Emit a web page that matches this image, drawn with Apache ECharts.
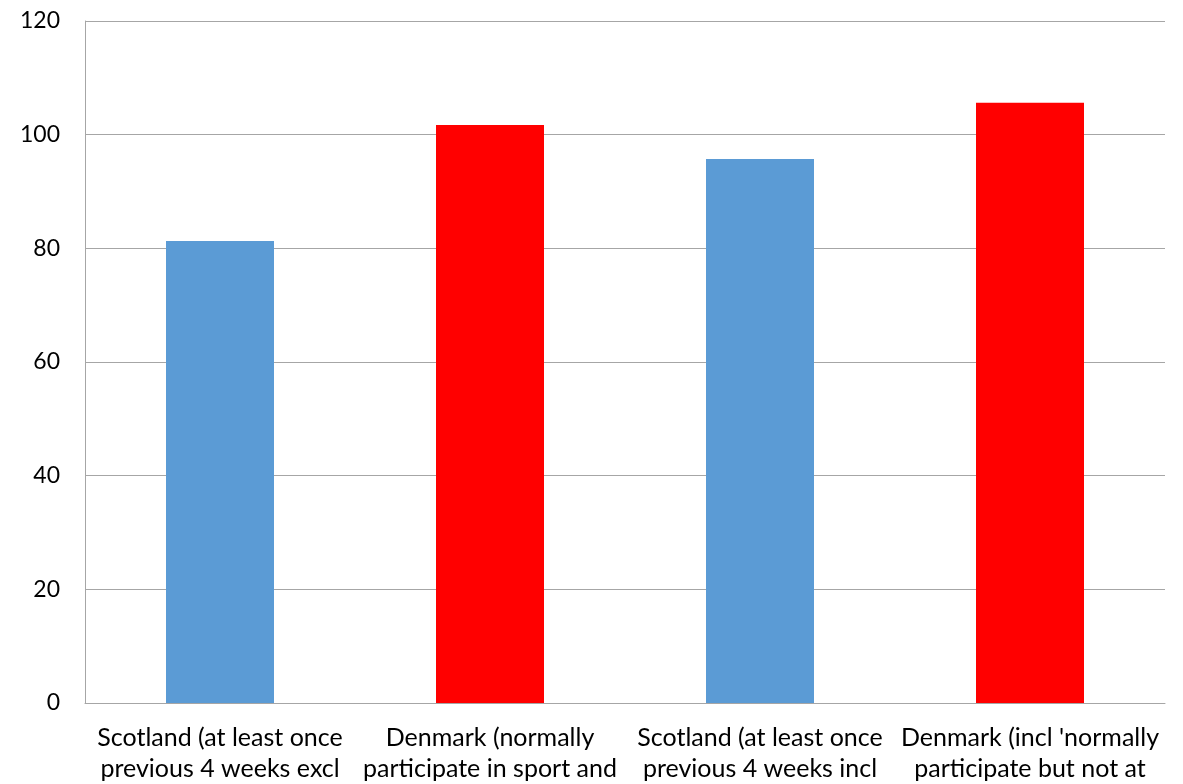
<!DOCTYPE html>
<html>
<head>
<meta charset="utf-8">
<script src="https://cdn.jsdelivr.net/npm/echarts@6/dist/echarts.min.js"></script>
<style>
  html, body { margin: 0; padding: 0; background: #ffffff; }
  #chart { width: 1183px; height: 784px; }
</style>
</head>
<body>
<div id="chart"></div>
<script>
// Participation measures, Scotland vs Denmark
const categories = [
  "Scotland (at least once\nprevious 4 weeks excl\nwalking)",
  "Denmark (normally\nparticipate in sport and\nexercise)",
  "Scotland (at least once\nprevious 4 weeks incl\nwalking)",
  "Denmark (incl 'normally\nparticipate but not at\npresent')"
];
const values = [81.3, 101.7, 95.7, 105.6];
const barColors = ["#5b9bd5", "#ff0000", "#5b9bd5", "#ff0000"];
const yTicks = { min: 0, max: 120, interval: 20 };

const chart = echarts.init(document.getElementById("chart"), null, { renderer: "canvas" });
const font = "Lato, 'Open Sans', sans-serif";

chart.setOption({
  animation: false,
  backgroundColor: "#ffffff",
  grid: { left: 85, right: 18, top: 21, bottom: 81, containLabel: false, outerBoundsMode: "none" },
  xAxis: {
    type: "category",
    data: categories,
    axisLine: { show: true, lineStyle: { color: "#a6a6a6", width: 1 } },
    axisTick: { show: false },
    axisLabel: {
      interval: 0,
      color: "#000000",
      fontFamily: font,
      fontSize: 25,
      lineHeight: 31,
      margin: 19
    }
  },
  yAxis: {
    type: "value",
    min: yTicks.min,
    max: yTicks.max,
    interval: yTicks.interval,
    axisLine: { show: true, lineStyle: { color: "#a6a6a6", width: 1 } },
    axisTick: { show: false },
    splitLine: { show: true, lineStyle: { color: "#a6a6a6", width: 1 } },
    axisLabel: {
      color: "#000000",
      fontFamily: font,
      fontSize: 23,
      margin: 25
    }
  },
  series: [{
    type: "bar",
    barWidth: "40%",
    data: values.map((v, i) => ({ value: v, itemStyle: { color: barColors[i] } }))
  }]
});
</script>
</body>
</html>
